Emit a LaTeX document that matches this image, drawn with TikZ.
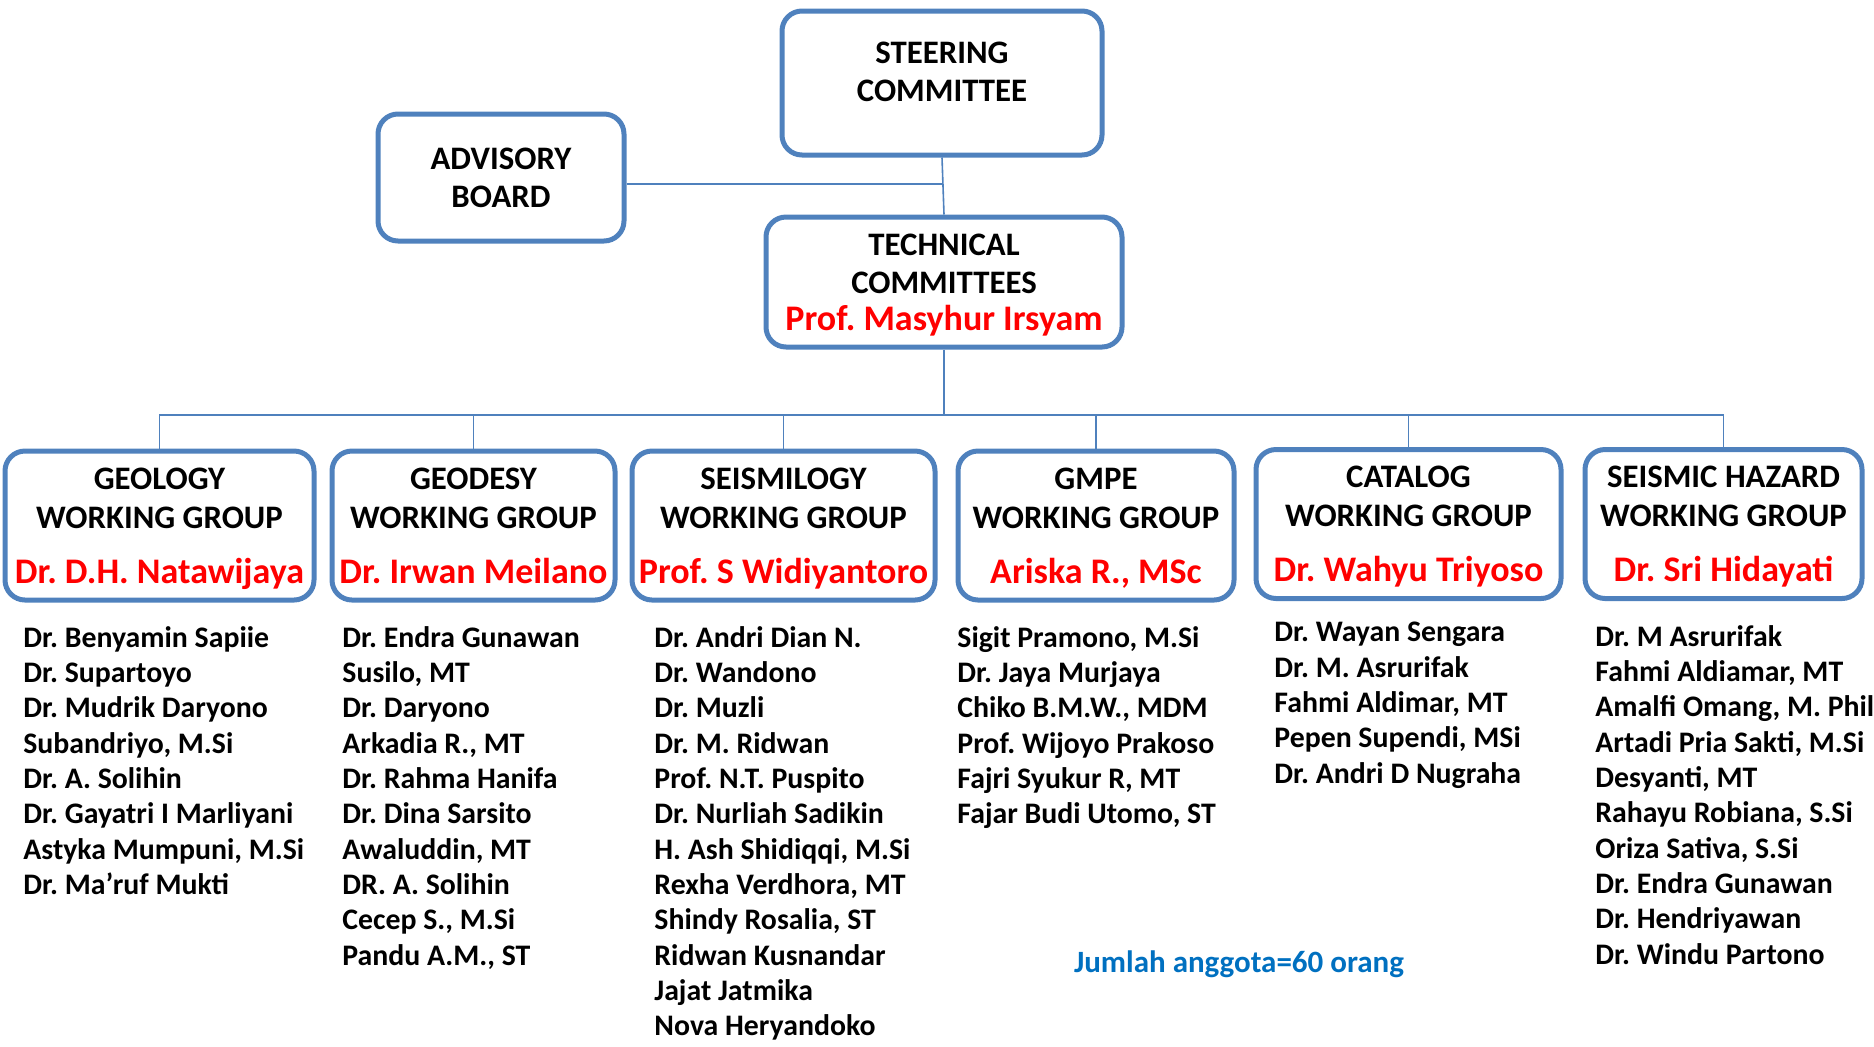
\documentclass[tikz,border=0pt]{standalone}
\usepackage{fontspec}
\setmainfont{Carlito}
\usetikzlibrary{positioning}
\definecolor{boxblue}{HTML}{4F81BD}
\definecolor{namered}{HTML}{FF0000}
\definecolor{noteblue}{HTML}{0070C0}
\frenchspacing
\tikzset{
  orgbox/.style={draw=boxblue, line width=2.5pt, rounded corners=10pt, align=center,
    inner sep=0pt, font=\bfseries\fontsize{16.4}{19}\selectfont},
  wgbox/.style={orgbox, minimum height=74.5pt, font=\bfseries\fontsize{16.4}{19.5}\selectfont},
  link/.style={draw=boxblue, line width=0.8pt},
  memberlist/.style={anchor=north west, align=left, inner sep=0pt,
    font=\bfseries\fontsize{14.9}{17.65}\selectfont},
}
% leader name in red, kept out of the box height
\newcommand{\leader}[1]{\smash{\color{namered}\fontsize{18}{20}\selectfont #1}}
% working group box text: title and leader
\newcommand{\wgtext}[2]{#1\\WORKING GROUP\\[8pt]\leader{#2}}
\begin{document}
\begin{tikzpicture}[x=0.5pt, y=-0.5pt]
\useasboundingbox (0,0) rectangle (1874,1046);
% top level
\node[orgbox, minimum width=160pt, minimum height=72pt] (steer) at (942,83)
  {STEERING\\COMMITTEE\rule[-11pt]{0pt}{11pt}};
\node[orgbox, minimum width=123pt, minimum height=63.5pt] (advisory) at (501,177.5)
  {ADVISORY\\BOARD};
\node[orgbox, minimum width=178pt, minimum height=65pt] (tech) at (944,282)
  {TECHNICAL\\COMMITTEES\\[-0.5pt]\leader{Prof. Masyhur Irsyam}};
\draw[link] (steer.south) -- (tech.north);
\draw[link] ([yshift=-3.25pt]advisory.east) -- ([yshift=-3.25pt]advisory.east -| steer.south);
% working groups
\node[wgbox, minimum width=154.5pt] (geo) at (159.5,525.5) {\wgtext{GEOLOGY}{Dr. D.H. Natawijaya}};
\node[wgbox, minimum width=141.5pt] (geod) at (473.5,525.5) {\wgtext{GEODESY}{Dr. Irwan Meilano}};
\node[wgbox, minimum width=151.5pt] (seis) at (783.5,525.5) {\wgtext{SEISMILOGY}{Prof. S Widiyantoro}};
\node[wgbox, minimum width=138pt] (gmpe) at (1096,525.5) {\wgtext{GMPE}{Ariska R., MSc}};
\node[wgbox, minimum width=152.5pt] (cat) at (1408.5,524) {\wgtext{CATALOG}{Dr. Wahyu Triyoso}};
\node[wgbox, minimum width=138.5pt] (haz) at (1723.5,524) {\wgtext{SEISMIC HAZARD}{Dr. Sri Hidayati}};
\coordinate (bus) at (944,415);
\draw[link] (tech.south) -- (bus);
\foreach \g in {geo,geod,seis,gmpe,cat,haz}
  \draw[link] (bus) -| (\g.north);
% members
\node[memberlist] (geolist) at (23,626) {Dr. Benyamin Sapiie\\Dr. Supartoyo\\Dr. Mudrik Daryono\\Subandriyo, M.Si\\Dr. A. Solihin\\Dr. Gayatri I Marliyani\\Astyka Mumpuni, M.Si\\Dr. Ma’ruf Mukti};
\node[memberlist] (geodlist) at (342,626) {Dr. Endra Gunawan\\Susilo, MT\\Dr. Daryono\\Arkadia R., MT\\Dr. Rahma Hanifa\\Dr. Dina Sarsito\\Awaluddin, MT\\DR. A. Solihin\\Cecep S., M.Si\\Pandu A.M., ST};
\node[memberlist] (seislist) at (654,626) {Dr. Andri Dian N.\\Dr. Wandono\\Dr. Muzli\\Dr. M. Ridwan\\Prof. N.T. Puspito\\Dr. Nurliah Sadikin\\H. Ash Shidiqqi, M.Si\\Rexha Verdhora, MT\\Shindy Rosalia, ST\\Ridwan Kusnandar\\Jajat Jatmika\\Nova Heryandoko};
\node[memberlist] (gmpelist) at (957,626) {Sigit Pramono, M.Si\\Dr. Jaya Murjaya\\Chiko B.M.W., MDM\\Prof. Wijoyo Prakoso\\Fajri Syukur R, MT\\Fajar Budi Utomo, ST};
\node[memberlist] (catlist) at (1274,622) {Dr. Wayan Sengara\\Dr. M. Asrurifak\\Fahmi Aldimar, MT\\Pepen Supendi, MSi\\Dr. Andri D Nugraha};
\node[memberlist] (hazlist) at (1595,625) {Dr. M Asrurifak\\Fahmi Aldiamar, MT\\Amalfi Omang, M. Phil\\Artadi Pria Sakti, M.Si\\Desyanti, MT\\Rahayu Robiana, S.Si\\Oriza Sativa, S.Si\\Dr. Endra Gunawan\\Dr. Hendriyawan\\Dr. Windu Partono};
\node[font=\bfseries\fontsize{15.5}{18}\selectfont, text=noteblue, inner sep=0pt] (total) at (1239,964) {Jumlah anggota=60 orang};
\end{tikzpicture}
\end{document}
